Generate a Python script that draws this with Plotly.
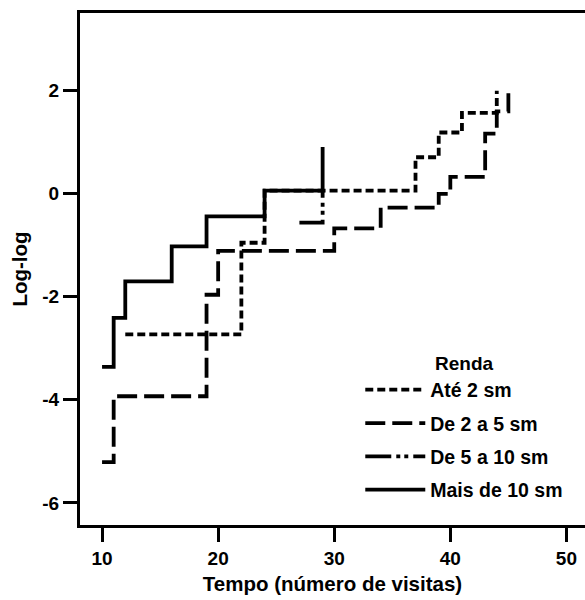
import plotly.graph_objects as go

# ---- data ----
series_names = ["Até 2 sm", "De 2 a 5 sm", "De 5 a 10 sm", "Mais de 10 sm"]

ate2_t = [12, 22, 24, 37, 39, 41, 44]
ate2_v = [-2.73, -0.95, 0.06, 0.71, 1.19, 1.57, 2.0]

de2a5_t = [10, 11, 19, 20, 30, 34, 39, 40, 43, 44, 45]
de2a5_v = [-5.21, -3.93, -1.96, -1.11, -0.67, -0.27, 0.0, 0.33, 1.17, 1.6, 1.95]

de5a10_t = [27, 29]
de5a10_v = [-0.56, 0.06]

mais10_t = [10, 11, 12, 16, 19, 24, 29]
mais10_v = [-3.36, -2.41, -1.70, -1.02, -0.44, 0.06, 0.91]

x_ticks = [10, 20, 30, 40, 50]
x_ticklabels = ["10", "20", "30", "40", "50"]
y_ticks = [2, 0, -2, -4, -6]
y_ticklabels = ["2", "0", "-2", "-4", "-6"]

dashes = ["8px,4px", "20px,7px", "26px,5px,4px,4px,4px,5px", "solid"]

FONT = "Liberation Sans, Arial, sans-serif"

fig = go.Figure()
for name, t, v, d in zip(series_names,
                         [ate2_t, de2a5_t, de5a10_t, mais10_t],
                         [ate2_v, de2a5_v, de5a10_v, mais10_v],
                         dashes):
    fig.add_trace(go.Scatter(
        x=t, y=v, mode="lines", name=name, legendgroup=name,
        line=dict(shape="hv", color="black", width=3.8, dash=d),
        hoverinfo="skip",
    ))

fig.update_layout(
    width=585, height=600,
    margin=dict(l=80, r=0, t=13, b=75, autoexpand=False),
    paper_bgcolor="white", plot_bgcolor="white",
    font=dict(family=FONT, size=19, color="black", weight="bold"),
    legend=dict(
        title=dict(text="Renda", side="top center",
                   font=dict(family=FONT, size=19, color="black", weight="bold")),
        x=0.555, y=0.35, xanchor="left", yanchor="top",
        itemwidth=60,
        bgcolor="rgba(0,0,0,0)", tracegroupgap=5,
        font=dict(family=FONT, size=19.5, color="black", weight="bold"),
    ),
    xaxis=dict(
        range=[8.1, 51.6], tickvals=x_ticks, ticktext=x_ticklabels,
        showline=True, linecolor="black", linewidth=3, mirror=True,
        ticks="outside", ticklen=14, tickwidth=3, tickcolor="black",
        showgrid=False, zeroline=False, automargin=False,
        title=dict(text="Tempo (número de visitas)", standoff=9,
                   font=dict(family=FONT, size=20.5, color="black", weight="bold")),
        tickfont=dict(family=FONT, size=19, color="black", weight="bold"),
    ),
    yaxis=dict(
        range=[-6.43, 3.51], tickvals=y_ticks, ticktext=y_ticklabels,
        showline=True, linecolor="black", linewidth=3, mirror=False,
        ticks="outside", ticklen=14, tickwidth=3, tickcolor="black",
        showgrid=False, zeroline=False, automargin=False,
        title=dict(text="Log-log", standoff=10,
                   font=dict(family=FONT, size=20.5, color="black", weight="bold")),
        tickfont=dict(family=FONT, size=19, color="black", weight="bold"),
    ),
)

fig.write_html("out.html", config={"displayModeBar": False},
               post_script="document.body.style.margin='0';")
